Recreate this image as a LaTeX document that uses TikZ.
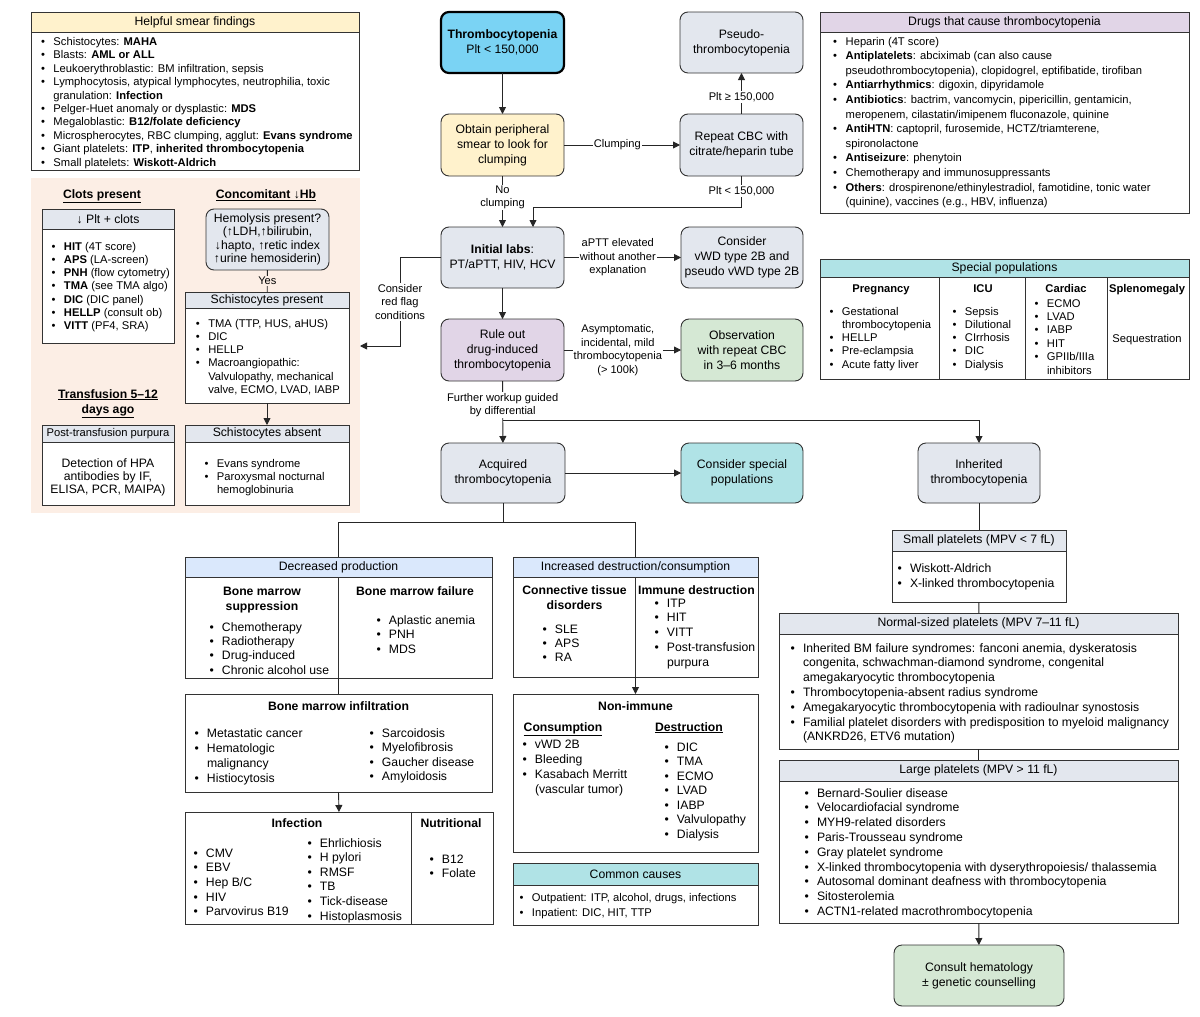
\documentclass[tikz,border=0pt]{standalone}
\usepackage{fontspec}
\setmainfont{Liberation Sans}
\usetikzlibrary{arrows.meta}
\definecolor{cThr}{HTML}{7AD3F4}
\definecolor{cYel}{HTML}{FFF2CC}
\definecolor{cGray}{HTML}{E3E7EE}
\definecolor{cBlue}{HTML}{DAE8FC}
\definecolor{cTeal}{HTML}{B0E3E6}
\definecolor{cLav}{HTML}{E1D5E7}
\definecolor{cGreen}{HTML}{D5E8D4}
\definecolor{cPink}{HTML}{FCEEE5}
\definecolor{cLine}{HTML}{333333}
\newcommand{\bi}[1]{\makebox[12.5pt][l]{\textbullet}#1}
\newcommand{\ci}[1]{\hspace*{12.5pt}#1}
\newcommand{\fs}{\rule{0pt}{9pt}}
\newcommand{\fL}[1]{\fontsize{11.2}{#1}\selectfont}
\newcommand{\fM}[1]{\fontsize{12.2}{#1}\selectfont}
\newcommand{\fB}[1]{\fontsize{12.2}{#1}\selectfont\bfseries}
\newcommand{\lst}[5]{\node[lstnode, font={#4}] (#1) at ({#2-12.5},{#3-9}) {\fs#5};}
\newcommand{\ctext}[5]{\node[ctnode, font={#4}] (#1) at (#2,{#3-9}) {\fs#5};}
\newcommand{\panel}[8]{%
  \node[panelbox, minimum width={#4-#2}, minimum height={#5-#3}] (#1) at (#2,#3) {};
  \node[panelhdr, fill=#7, minimum width={#4-#2}, minimum height={#6-#3}] (#1h) at (#2,#3) {#8};}
\newcommand{\fb}[7]{\node[fbox, fill=#6, minimum width={#4-#2}, minimum height={#5-#3}] (#1) at (#2,#3) {#7};}
\begin{document}
\begin{tikzpicture}[x=1pt,y=-1pt,
  every node/.style={inner sep=0pt, outer sep=0pt},
  fbox/.style={draw=cLine, line width=0.9pt, rounded corners=8pt, align=center, font={\fM{15}}, anchor=north west},
  panelbox/.style={draw=cLine, line width=0.9pt, anchor=north west, fill=white},
  panelhdr/.style={draw=cLine, line width=0.9pt, anchor=north west, font={\fM{15}}},
  lstnode/.style={anchor=north west, align=left},
  ctnode/.style={anchor=north, align=center},
  lbl/.style={fill=white, align=center, font={\fontsize{11.1}{13.5}\selectfont}, inner sep=1.2pt},
  conn/.style={draw=black!85, line width=0.9pt},
  arr/.style={conn, -{Triangle[length=7pt,width=7pt]}},
  divl/.style={draw=cLine, line width=0.9pt}
]
\fill[white] (0,0) rectangle (1200,1017);
\useasboundingbox (0,0) rectangle (1200,1017);

% ---------- left column ----------
\panel{smear}{31}{12}{359}{170}{32}{cYel}{Helpful smear findings}
\lst{smearl}{53.5}{45.5}{\fL{13.4}}{\bi{Schistocytes: \textbf{MAHA}}\\
\bi{Blasts: \textbf{AML or ALL}}\\
\bi{Leukoerythroblastic: BM infiltration, sepsis}\\
\bi{Lymphocytosis, atypical lymphocytes, neutrophilia, toxic}\\
\ci{granulation: \textbf{Infection}}\\
\bi{Pelger-Huet anomaly or dysplastic: \textbf{MDS}}\\
\bi{Megaloblastic: \textbf{B12/folate deficiency}}\\
\bi{Microspherocytes, RBC clumping, agglut: \textbf{Evans syndrome}}\\
\bi{Giant platelets: \textbf{ITP}, \textbf{inherited thrombocytopenia}}\\
\bi{Small platelets: \textbf{Wiskott-Aldrich}}}

\node[fill=cPink, anchor=north west, minimum width=329, minimum height=335] (pink) at (31,178) {};
\ctext{clh}{102}{198}{\fB{15}}{\underline{Clots present}}
\ctext{cch}{266}{198}{\fB{15}}{\underline{Concomitant ↓Hb}}
\panel{pltc}{42}{209}{174}{343}{229}{cGray}{↓ Plt + clots}
\lst{pltl}{64}{250}{\fL{13.3}}{\bi{\textbf{HIT} (4T score)}\\
\bi{\textbf{APS} (LA-screen)}\\
\bi{\textbf{PNH} (flow cytometry)}\\
\bi{\textbf{TMA} (see TMA algo)}\\
\bi{\textbf{DIC} (DIC panel)}\\
\bi{\textbf{HELLP} (consult ob)}\\
\bi{\textbf{VITT} (PF4, SRA)}}
\node[fbox, fill=cGray, font={\fM{13.4}}, minimum width=123, minimum height=61] (hem) at (206,209) {Hemolysis present?\\(↑LDH,↑bilirubin,\\↓hapto, ↑retic index\\↑urine hemosiderin)};
\panel{schp}{185}{292}{349}{403}{308}{cGray}{Schistocytes present}
\lst{schpl}{208.3}{327}{\fL{13.3}}{\bi{TMA (TTP, HUS, aHUS)}\\
\bi{DIC}\\
\bi{HELLP}\\
\bi{Macroangiopathic:}\\
\ci{Valvulopathy, mechanical}\\
\ci{valve, ECMO, LVAD, IABP}}
\panel{scha}{185}{425}{349}{505}{442}{cGray}{Schistocytes absent}
\lst{schal}{217}{467}{\fL{13.1}}{\bi{Evans syndrome}\\
\bi{Paroxysmal nocturnal}\\
\ci{hemoglobinuria}}
\ctext{trh}{108}{398}{\fB{15}}{\underline{Transfusion 5–12}\\\underline{days ago}}
\panel{ptp}{42}{425}{174}{505}{442}{cGray}{\fL{13}Post-transfusion purpura}
\ctext{ptpl}{108}{467}{\fM{13.3}}{Detection of HPA\\antibodies by IF,\\ELISA, PCR, MAIPA)}

% ---------- central flow ----------
\node[fbox, fill=cThr, draw=black, line width=2.2pt, minimum width=123, minimum height=61] (thr) at (441,12) {\textbf{Thrombocytopenia}\\Plt < 150,000};
\fb{obt}{441}{114}{564}{176}{cYel}{Obtain peripheral\\smear to look for\\clumping}
\fb{rep}{680}{114}{803}{176}{cGray}{Repeat CBC with\\citrate/heparin tube}
\fb{pse}{680}{12}{803}{73}{cGray}{Pseudo-\\thrombocytopenia}
\fb{ini}{441}{227}{564}{288}{cGray}{\textbf{Initial labs}:\\PT/aPTT, HIV, HCV}
\fb{vwd}{681}{227}{803}{288}{cGray}{Consider\\vWD type 2B and\\pseudo vWD type 2B}
\fb{rul}{441}{319}{564}{381}{cLav}{Rule out\\drug-induced\\thrombocytopenia}
\fb{obs}{681}{319}{803}{381}{cGreen}{Observation\\with repeat CBC\\in 3–6 months}
\fb{acq}{441}{443}{565}{503}{cGray}{Acquired\\thrombocytopenia}
\fb{spc}{681}{443}{803}{503}{cTeal}{Consider special\\populations}
\fb{inh}{918}{443}{1040}{503}{cGray}{Inherited\\thrombocytopenia}
\fb{con}{894}{945}{1064}{1006}{cGreen}{Consult hematology\\± genetic counselling}

% ---------- right top ----------
\panel{drugs}{820}{12}{1189}{213}{32}{cLav}{Drugs that cause thrombocytopenia}
\lst{drugsl}{845.7}{45}{\fL{14.6}}{\bi{Heparin (4T score)}\\
\bi{\textbf{Antiplatelets}: abciximab (can also cause}\\
\ci{pseudothrombocytopenia), clopidogrel, eptifibatide, tirofiban}\\
\bi{\textbf{Antiarrhythmics}: digoxin, dipyridamole}\\
\bi{\textbf{Antibiotics}: bactrim, vancomycin, pipericillin, gentamicin,}\\
\ci{meropenem, cilastatin/imipenem fluconazole, quinine}\\
\bi{\textbf{AntiHTN}: captopril, furosemide, HCTZ/triamterene,}\\
\ci{spironolactone}\\
\bi{\textbf{Antiseizure}: phenytoin}\\
\bi{Chemotherapy and immunosuppressants}\\
\bi{\textbf{Others}: drospirenone/ethinylestradiol, famotidine, tonic water}\\
\ci{(quinine), vaccines (e.g., HBV, influenza)}}

\panel{spop}{820}{259}{1189}{379}{277}{cTeal}{Special populations}
\draw[divl] (939,277) -- (939,379);
\draw[divl] (1025,277) -- (1025,379);
\draw[divl] (1107,277) -- (1107,379);
\ctext{sph1}{881}{292}{\fontsize{11.2}{14}\selectfont\bfseries}{Pregnancy}
\ctext{sph2}{983}{292}{\fontsize{11.2}{14}\selectfont\bfseries}{ICU}
\ctext{sph3}{1066}{292}{\fontsize{11.2}{14}\selectfont\bfseries}{Cardiac}
\ctext{sph4}{1147}{292}{\fontsize{11.2}{14}\selectfont\bfseries}{Splenomegaly}
\lst{spl1}{842}{315}{\fL{13.3}}{\bi{Gestational}\\\ci{thrombocytopenia}\\\bi{HELLP}\\\bi{Pre-eclampsia}\\\bi{Acute fatty liver}}
\lst{spl2}{965}{315}{\fL{13.3}}{\bi{Sepsis}\\\bi{Dilutional}\\\bi{CIrrhosis}\\\bi{DIC}\\\bi{Dialysis}}
\lst{spl3}{1047}{307}{\fL{13.4}}{\bi{ECMO}\\\bi{LVAD}\\\bi{IABP}\\\bi{HIT}\\\bi{GPIIb/IIIa}\\\ci{inhibitors}}
\ctext{spl4}{1147}{342}{\fL{13}}{Sequestration}

% ---------- acquired branch ----------
\panel{dec}{185}{557}{492}{678}{577}{cBlue}{Decreased production}
\draw[divl] (338.5,577) -- (338.5,678);
\ctext{bmsh}{262}{595}{\fB{15}}{Bone marrow\\suppression}
\lst{bmsl}{222}{631}{\fM{14.4}}{\bi{Chemotherapy}\\\bi{Radiotherapy}\\\bi{Drug-induced}\\\bi{Chronic alcohol use}}
\ctext{bmfh}{415}{595}{\fB{15}}{Bone marrow failure}
\lst{bmfl}{389}{624}{\fM{14.5}}{\bi{Aplastic anemia}\\\bi{PNH}\\\bi{MDS}}

\node[panelbox, minimum width=307, minimum height=98] (infil) at (185,694) {};
\ctext{bmih}{338.5}{710}{\fB{15}}{Bone marrow infiltration}
\lst{bmil1}{207}{737}{\fM{15}}{\bi{Metastatic cancer}\\\bi{Hematologic}\\\ci{malignancy}\\\bi{Histiocytosis}}
\lst{bmil2}{382}{737}{\fM{14.6}}{\bi{Sarcoidosis}\\\bi{Myelofibrosis}\\\bi{Gaucher disease}\\\bi{Amyloidosis}}

\node[panelbox, minimum width=308, minimum height=112] (infect) at (185,812) {};
\draw[divl] (411,812) -- (411,924);
\ctext{infh}{297}{827}{\fB{15}}{Infection}
\ctext{nuth}{451}{827}{\fB{15}}{Nutritional}
\lst{infl1}{206}{857}{\fM{14.7}}{\bi{CMV}\\\bi{EBV}\\\bi{Hep B/C}\\\bi{HIV}\\\bi{Parvovirus B19}}
\lst{infl2}{320}{847}{\fM{14.6}}{\bi{Ehrlichiosis}\\\bi{H pylori}\\\bi{RMSF}\\\bi{TB}\\\bi{Tick-disease}\\\bi{Histoplasmosis}}
\lst{nutl}{442}{863}{\fM{14}}{\bi{B12}\\\bi{Folate}}

\panel{inc}{513}{557}{758}{677}{577}{cBlue}{Increased destruction/consumption}
\draw[divl] (635.5,577) -- (635.5,677);
\ctext{cth}{574.5}{594}{\fB{15}}{Connective tissue\\disorders}
\lst{ctl}{555}{633}{\fM{14}}{\bi{SLE}\\\bi{APS}\\\bi{RA}}
\ctext{imh}{696.5}{594}{\fB{15}}{Immune destruction}
\lst{iml}{667}{607}{\fM{14.8}}{\bi{ITP}\\\bi{HIT}\\\bi{VITT}\\\bi{Post-transfusion}\\\ci{purpura}}

\node[panelbox, minimum width=245, minimum height=158] (nonimm) at (513,694) {};
\ctext{nih}{635.5}{710}{\fB{15}}{Non-immune}
\ctext{csh}{563}{731}{\fB{15}}{\underline{Consumption}}
\ctext{dsh}{689}{731}{\fB{15}}{\underline{Destruction}}
\lst{csl}{535}{748}{\fM{15}}{\bi{vWD 2B}\\\bi{Bleeding}\\\bi{Kasabach Merritt}\\\ci{(vascular tumor)}}
\lst{dsl}{677}{751}{\fM{14.5}}{\bi{DIC}\\\bi{TMA}\\\bi{ECMO}\\\bi{LVAD}\\\bi{IABP}\\\bi{Valvulopathy}\\\bi{Dialysis}}

\panel{common}{513}{863}{758}{925}{885}{cTeal}{Common causes}
\lst{ccl}{532}{901}{\fL{15}}{\bi{Outpatient: ITP, alcohol, drugs, infections}\\\bi{Inpatient: DIC, HIT, TTP}}

% ---------- inherited branch ----------
\panel{smallp}{892}{530}{1066}{602}{551}{cGray}{Small platelets (MPV < 7 fL)}
\lst{spll}{910}{572}{\fM{15.5}}{\bi{Wiskott-Aldrich}\\\bi{X-linked thrombocytopenia}}
\panel{normp}{779}{613}{1178}{749}{634}{cGray}{Normal-sized platelets (MPV 7–11 fL)}
\lst{npl}{803}{652}{\fM{14.8}}{\bi{Inherited BM failure syndromes: fanconi anemia, dyskeratosis}\\
\ci{congenita, schwachman-diamond syndrome, congenital}\\
\ci{amegakaryocytic thrombocytopenia}\\
\bi{Thrombocytopenia-absent radius syndrome}\\
\bi{Amegakaryocytic thrombocytopenia with radioulnar synostosis}\\
\bi{Familial platelet disorders with predisposition to myeloid malignancy}\\
\ci{(ANKRD26, ETV6 mutation)}}
\panel{largep}{779}{760}{1178}{923}{781}{cGray}{Large platelets (MPV > 11 fL)}
\lst{lpl}{817}{797}{\fM{14.8}}{\bi{Bernard-Soulier disease}\\
\bi{Velocardiofacial syndrome}\\
\bi{MYH9-related disorders}\\
\bi{Paris-Trousseau syndrome}\\
\bi{Gray platelet syndrome}\\
\bi{X-linked thrombocytopenia with dyserythropoiesis/ thalassemia}\\
\bi{Autosomal dominant deafness with thrombocytopenia}\\
\bi{Sitosterolemia}\\
\bi{ACTN1-related macrothrombocytopenia}}

% ---------- connectors ----------
\draw[arr] (thr) -- (obt);
\draw[arr] (obt) -- node[lbl, pos=0.46]{Clumping} (rep);
\draw[arr] (rep) -- node[lbl, pos=0.42]{Plt ≥ 150,000} (pse);
\coordinate (j1) at (741.5,207);
\coordinate (j2) at (533,207);
\draw[conn] (rep.south) -- node[lbl, pos=0.48]{Plt < 150,000} (j1) -- (j2);
\draw[arr] (j2) -- (j2 |- ini.north);
\draw[arr] (obt) -- node[lbl, pos=0.42]{No\\clumping} (ini);
\draw[arr] (ini) -- node[lbl, pos=0.46]{aPTT elevated\\without another\\explanation} (vwd);
\coordinate (rf1) at (400,257.5);
\coordinate (rf2) at (400,346);
\draw[arr] (ini.west) -- (rf1) -- node[lbl, pos=0.5]{Consider\\red flag\\conditions} (rf2) -- (rf2 -| pink.east);
\draw[arr] (ini) -- (rul);
\draw[arr] (rul) -- node[lbl, pos=0.46]{Asymptomatic,\\incidental, mild\\thrombocytopenia\\(> 100k)} (obs);
\draw[arr] (rul) -- node[lbl, pos=0.39]{Further workup guided\\by differential} (acq);
\coordinate (j3) at (502.5,420);
\coordinate (j4) at (979,420);
\draw[conn] (j3) -- (j4);
\draw[arr] (j4) -- (inh.north);
\draw[arr] (acq) -- (spc);
\coordinate (k1) at (503,522);
\coordinate (k2) at (338.5,522);
\coordinate (k3) at (635.5,522);
\draw[conn] (acq.south) -- (k1);
\draw[conn] (k2) -- (k3);
\draw[conn] (k2) -- (dec.north);
\draw[conn] (k3) -- (inc.north);
\draw[conn] (dec.south) -- (infil.north);
\draw[arr] (infil.south) -- (infect.north);
\draw[arr] (inc.south) -- (nonimm.north);
\draw[conn] (inh) -- (smallp);
\draw[conn] (smallp) -- (normp);
\draw[conn] (normp) -- (largep);
\draw[arr] (largep) -- (con);
\draw[conn] (hem) -- node[lbl, fill=cPink]{Yes} (schp);
\draw[arr] (schp) -- (scha);
\end{tikzpicture}
\end{document}
